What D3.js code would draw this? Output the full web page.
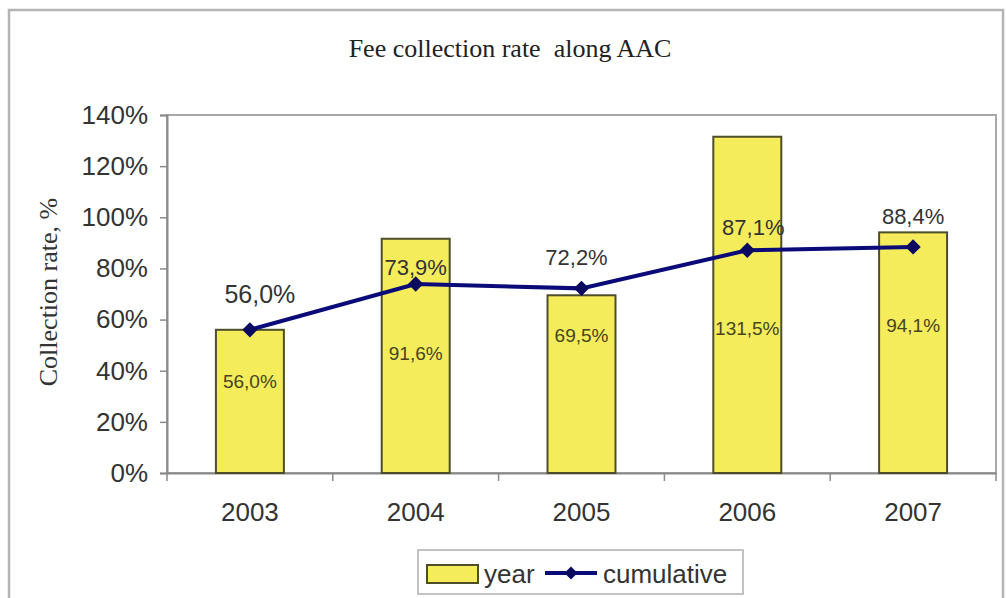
<!DOCTYPE html>
<html><head><meta charset="utf-8">
<script src="https://cdn.jsdelivr.net/npm/d3@7/dist/d3.min.js"></script>
<style>body{margin:0;background:#fff;}svg{display:block;}</style>
</head><body>
<svg id="c" width="1006" height="598"></svg>
<script>
const years = ["2003","2004","2005","2006","2007"];
const yearRate = [56.0, 91.6, 69.5, 131.5, 94.1];
const cumulativeRate = [56.0, 73.9, 72.2, 87.1, 88.4];
const yTicks = [0,20,40,60,80,100,120,140];
const titleText = "Fee collection rate  along AAC";
const yTitle = "Collection rate, %";
const legendLabels = ["year","cumulative"];

// layout (label placement, in value units / px), not data
const yearLabelAt = [36, 46.7, 53.7, 56.5, 57.6];
const cumLabelAt = [69.8, 80.4, 84.3, 96.1, 100.4];
const cumLabelDx = [10, 0, -5, 6, 0];
const cumLabelSize = [25, 22, 22, 22, 22];

const svg = d3.select("#c");
const fmt = v => v.toFixed(1).replace(".", ",") + "%";

// outer frame
svg.append("rect").attr("x",9).attr("y",10).attr("width",994).attr("height",600)
  .attr("fill","#fff").attr("stroke","#b4b4b4").attr("stroke-width",2.5);

const L=167,R=996,T=115,B=473;
const x = d3.scaleBand().domain(years).range([L,R]).paddingInner(0.59).paddingOuter(0.295);
const xb = d3.scaleBand().domain(years).range([L,R]);
const y = d3.scaleLinear().domain([0,140]).range([B,T]);

// plot border
svg.append("rect").attr("x",L).attr("y",T).attr("width",R-L).attr("height",B-T)
  .attr("fill","#fff").attr("stroke","#a8a8a8").attr("stroke-width",2);

// title
svg.append("text").attr("x",510).attr("y",57).attr("text-anchor","middle")
  .attr("font-family","Liberation Serif").attr("font-size",26).attr("fill","#222")
  .style("white-space","pre").attr("xml:space","preserve")
  .text(titleText);

// y axis title
svg.append("text").attr("transform","translate(57,292) rotate(-90)").attr("text-anchor","middle")
  .attr("font-family","Liberation Serif").attr("font-size",26).attr("fill","#333")
  .text(yTitle);

// y axis
const ya = svg.append("g").attr("transform",`translate(${L},0)`)
  .call(d3.axisLeft(y).tickValues(yTicks).tickFormat(d=>d+"%").tickSize(7).tickPadding(12));
ya.select(".domain").attr("stroke","#8a8a8a").attr("stroke-width",2);
ya.selectAll(".tick line").attr("stroke","#8a8a8a").attr("stroke-width",1.5);
ya.selectAll(".tick text").attr("font-family","Liberation Sans").attr("font-size",26).attr("fill","#333");

// x axis: ticks at category boundaries
const xa = svg.append("g").attr("transform",`translate(0,${B})`)
  .call(d3.axisBottom(xb).tickSize(0).tickPadding(30));
xa.select(".domain").attr("stroke","#8a8a8a").attr("stroke-width",2);
xa.selectAll(".tick text").attr("font-family","Liberation Sans").attr("font-size",26).attr("fill","#333");
const bounds = years.map(d=>xb(d)).concat([R]);
xa.selectAll(".bt").data(bounds).enter().append("line").attr("class","bt")
  .attr("x1",d=>d).attr("x2",d=>d).attr("y1",0).attr("y2",8)
  .attr("stroke","#8a8a8a").attr("stroke-width",1.5);

// bars
svg.selectAll(".bar").data(yearRate).enter().append("rect").attr("class","bar")
  .attr("x",(d,i)=>x(years[i])).attr("width",x.bandwidth())
  .attr("y",d=>y(d)).attr("height",d=>B-y(d))
  .attr("fill","#f5ec5c").attr("stroke","#4d4d2a").attr("stroke-width",2);

// bar labels
svg.selectAll(".bl").data(yearRate).enter().append("text").attr("class","bl")
  .attr("x",(d,i)=>xb(years[i])+xb.bandwidth()/2).attr("y",(d,i)=>y(yearLabelAt[i]))
  .attr("dy","0.35em").attr("text-anchor","middle")
  .attr("font-family","Liberation Sans").attr("font-size",19).attr("fill","#45451f")
  .text(fmt);

// line
const cx = i => xb(years[i])+xb.bandwidth()/2;
svg.append("path").datum(cumulativeRate)
  .attr("d", d3.line().x((d,i)=>cx(i)).y(d=>y(d)))
  .attr("fill","none").attr("stroke","#0a0a78").attr("stroke-width",4);
svg.selectAll(".mk").data(cumulativeRate).enter().append("path").attr("class","mk")
  .attr("transform",(d,i)=>`translate(${cx(i)},${y(d)})`)
  .attr("d", d3.symbol(d3.symbolDiamond2, 150)).attr("fill","#0a0a60");

// cumulative labels
svg.selectAll(".cl").data(cumulativeRate).enter().append("text").attr("class","cl")
  .attr("x",(d,i)=>cx(i)+cumLabelDx[i]).attr("y",(d,i)=>y(cumLabelAt[i]))
  .attr("dy","0.35em").attr("text-anchor","middle")
  .attr("font-family","Liberation Sans").attr("font-size",(d,i)=>cumLabelSize[i]).attr("fill","#333")
  .text(fmt);

// legend
const lg = svg.append("g");
lg.append("rect").attr("x",418).attr("y",550).attr("width",325).attr("height",44)
  .attr("fill","#fff").attr("stroke","#b0b0b0").attr("stroke-width",1.5);
lg.append("rect").attr("x",427).attr("y",565).attr("width",51).attr("height",18)
  .attr("fill","#f5ec5c").attr("stroke","#4d4d2a").attr("stroke-width",2);
lg.append("text").attr("x",484).attr("y",583).attr("font-family","Liberation Sans")
  .attr("font-size",26).attr("fill","#333").text(legendLabels[0]);
lg.append("line").attr("x1",545).attr("x2",597).attr("y1",573).attr("y2",573)
  .attr("stroke","#0a0a78").attr("stroke-width",4);
lg.append("path").attr("transform","translate(571,573)").attr("d",d3.symbol(d3.symbolDiamond2,110)).attr("fill","#0a0a60");
lg.append("text").attr("x",603).attr("y",583).attr("font-family","Liberation Sans")
  .attr("font-size",26).attr("fill","#333").text(legendLabels[1]);
</script>
</body></html>
